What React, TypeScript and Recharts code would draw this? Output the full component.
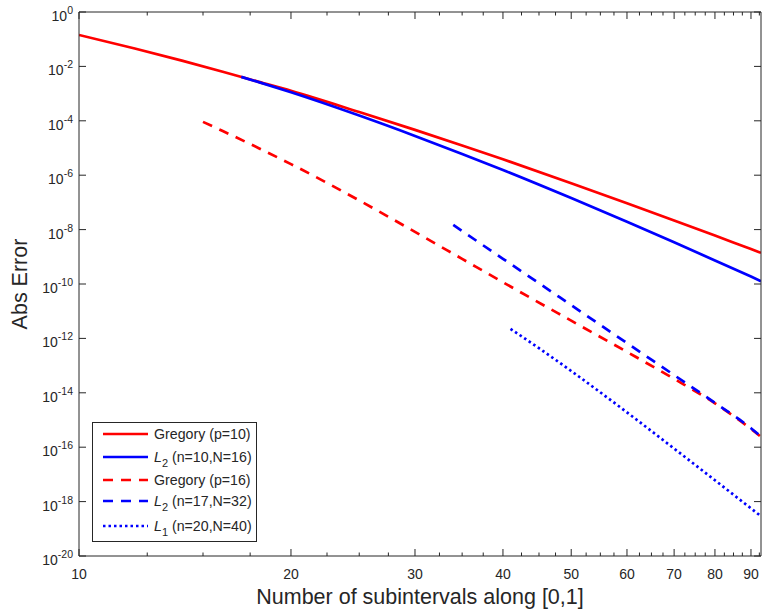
import { LineChart, Line, XAxis, YAxis, Legend } from 'recharts';

const AXIS = '#262626';
const RED = '#ff0000';
const BLUE = '#0000ff';
const FONT = '"Liberation Sans", Arial, Helvetica, sans-serif';

// axis ticks
const xMajorTicks = [10, 20, 30, 40, 50, 60, 70, 80, 90];
const xMinorTicks = [
  12.5, 15, 17.5, 22.5, 25, 27.5, 32.5, 35, 37.5, 42.5, 45, 47.5, 52.5, 55, 57.5,
  62.5, 65, 67.5, 72.5, 75, 77.5, 82.5, 85, 87.5, 92.5,
];
const yTicks = [1, 1e-2, 1e-4, 1e-6, 1e-8, 1e-10, 1e-12, 1e-14, 1e-16, 1e-18, 1e-20];

// Gregory (p=10)
const gregory10N = [10, 12, 14, 16, 18, 20, 25, 30, 35, 40, 50, 60, 70, 80, 90, 93];
const gregory10Err = [
  1.43e-1, 4.57e-2, 1.63e-2, 6.38e-3, 2.7e-3, 1.26e-3, 2.1e-4, 4.63e-5, 1.24e-5,
  3.85e-6, 5.09e-7, 9.35e-8, 2.17e-8, 6.03e-9, 1.92e-9, 1.4e-9,
];

// L2 (n=10,N=16)
const l2aN = [17, 18, 20, 25, 30, 35, 40, 50, 60, 70, 80, 90, 93];
const l2aErr = [
  4.12e-3, 2.64e-3, 1.12e-3, 1.56e-4, 2.78e-5, 6.03e-6, 1.55e-6, 1.44e-7, 1.94e-8,
  3.4e-9, 7.35e-10, 1.87e-10, 1.27e-10,
];

// Gregory (p=16)
const gregory16N = [15, 16, 18, 20, 25, 30, 35, 40, 50, 60, 70, 80, 90, 93];
const gregory16Err = [
  9.12e-5, 4.21e-5, 9.86e-6, 2.56e-6, 1.18e-7, 8.24e-9, 8.39e-10, 1.16e-10, 4.48e-12,
  3.18e-13, 3.26e-14, 4.11e-15, 4.68e-16, 2.4e-16,
];

// L2 (n=17,N=32)
const l2bN = [34, 35, 40, 45, 50, 60, 70, 80, 90, 93];
const l2bErr = [1.48e-8, 8.87e-9, 8.45e-10, 1.07e-10, 1.67e-11, 6.73e-13, 4.48e-14, 4.27e-15, 5.0e-16, 2.5e-16];

// L1 (n=20,N=40)
const l1N = [41, 45, 50, 60, 70, 80, 90, 93];
const l1Err = [2.24e-12, 4.36e-13, 6.32e-14, 1.91e-15, 8.89e-17, 6.07e-18, 5.64e-19, 2.9e-19];

const zip = (ns: number[], errs: number[]) => ns.map((n, i) => ({ n, err: errs[i] }));

const series = [
  { name: 'Gregory (p=10)', data: zip(gregory10N, gregory10Err), color: RED, dash: undefined, sym: '', sub: '', rest: 'Gregory (p=10)' },
  { name: 'L2 (n=10,N=16)', data: zip(l2aN, l2aErr), color: BLUE, dash: undefined, sym: 'L', sub: '2', rest: ' (n=10,N=16)' },
  { name: 'Gregory (p=16)', data: zip(gregory16N, gregory16Err), color: RED, dash: '10 8', sym: '', sub: '', rest: 'Gregory (p=16)' },
  { name: 'L2 (n=17,N=32)', data: zip(l2bN, l2bErr), color: BLUE, dash: '10 8', sym: 'L', sub: '2', rest: ' (n=17,N=32)' },
  { name: 'L1 (n=20,N=40)', data: zip(l1N, l1Err), color: BLUE, dash: '2.5 3', sym: 'L', sub: '1', rest: ' (n=20,N=40)' },
];

const legendRowY = [12, 35, 58, 79, 104];

const XTickBottom = ({ x, y, payload }: any) => {
  const major = xMajorTicks.includes(payload.value);
  return (
    <g>
      <line x1={x} x2={x} y1={y} y2={y - (major ? 7 : 3.5)} stroke={AXIS} strokeWidth={1} />
      {major && (
        <text x={x} y={y + 23} textAnchor="middle" fill={AXIS} fontSize={14} fontFamily={FONT}>
          {payload.value}
        </text>
      )}
    </g>
  );
};

const XTickTop = ({ x, y, payload }: any) => {
  const major = xMajorTicks.includes(payload.value);
  return <line x1={x} x2={x} y1={y} y2={y + (major ? 7 : 3.5)} stroke={AXIS} strokeWidth={1} />;
};

const YTickLeft = ({ x, y, payload }: any) => {
  const e = Math.round(Math.log10(payload.value));
  return (
    <g>
      <line x1={x} x2={x + 7} y1={y} y2={y} stroke={AXIS} strokeWidth={1} />
      <text x={x - 6} y={y + 9} textAnchor="end" fill={AXIS} fontSize={14} fontFamily={FONT}>
        10
        <tspan dy={-7} fontSize={10.5}>
          {e}
        </tspan>
      </text>
    </g>
  );
};

const YTickRight = ({ x, y }: any) => (
  <line x1={x} x2={x - 7} y1={y} y2={y} stroke={AXIS} strokeWidth={1} />
);

const XTitle = ({ viewBox }: any) => (
  <text
    x={viewBox.x + viewBox.width / 2}
    y={viewBox.y + 48}
    textAnchor="middle"
    fill={AXIS}
    fontSize={21.5}
    fontFamily={FONT}
  >
    Number of subintervals along [0,1]
  </text>
);

const YTitle = ({ viewBox }: any) => {
  const cx = 27;
  const cy = viewBox.y + viewBox.height / 2;
  return (
    <text
      x={cx}
      y={cy}
      transform={`rotate(-90 ${cx} ${cy})`}
      textAnchor="middle"
      fill={AXIS}
      fontSize={21.5}
      fontFamily={FONT}
    >
      Abs Error
    </text>
  );
};

const renderLegend = () => (
  <svg width={166} height={121} style={{ display: 'block' }}>
    <rect x={0.5} y={0.5} width={164} height={119} fill="#fff" stroke={AXIS} strokeWidth={1} />
    {series.map((s, i) => (
      <g key={s.name}>
        <line
          x1={11}
          x2={56}
          y1={legendRowY[i]}
          y2={legendRowY[i]}
          stroke={s.color}
          strokeWidth={2.7}
          strokeDasharray={s.dash}
        />
        <text x={62} y={legendRowY[i] + 5} fill={AXIS} fontSize={14.2} fontFamily={FONT}>
          {s.sym ? (
            <>
              <tspan fontStyle="italic">{s.sym}</tspan>
              <tspan dy={5} fontSize={11}>
                {s.sub}
              </tspan>
              <tspan dy={-5}>{s.rest}</tspan>
            </>
          ) : (
            s.rest
          )}
        </text>
      </g>
    ))}
  </svg>
);

export default function App() {
  const xTicks = [...xMajorTicks, ...xMinorTicks].sort((a, b) => a - b);
  return (
    <div style={{ position: 'absolute', left: 0, top: 0, background: '#fff' }}>
      <LineChart width={762} height={613} margin={{ top: 11, right: 0, bottom: 0, left: 0 }}>
        <XAxis
          xAxisId="b"
          type="number"
          dataKey="n"
          scale="log"
          domain={[10, 93]}
          allowDataOverflow
          ticks={xTicks}
          interval={0}
          height={57}
          tickSize={0}
          tickMargin={0}
          tickLine={false}
          tick={<XTickBottom />}
          axisLine={{ stroke: AXIS }}
          label={<XTitle />}
        />
        <XAxis
          xAxisId="t"
          orientation="top"
          type="number"
          dataKey="n"
          scale="log"
          domain={[10, 93]}
          allowDataOverflow
          ticks={xTicks}
          interval={0}
          height={1}
          tickSize={0}
          tickMargin={0}
          tickLine={false}
          tick={<XTickTop />}
          axisLine={{ stroke: AXIS }}
        />
        <YAxis
          yAxisId="l"
          type="number"
          dataKey="err"
          scale="log"
          domain={[1e-20, 1]}
          allowDataOverflow
          ticks={yTicks}
          interval={0}
          width={79}
          tickSize={0}
          tickMargin={0}
          tickLine={false}
          tick={<YTickLeft />}
          axisLine={{ stroke: AXIS }}
          label={<YTitle />}
        />
        <YAxis
          yAxisId="r"
          orientation="right"
          type="number"
          dataKey="err"
          scale="log"
          domain={[1e-20, 1]}
          allowDataOverflow
          ticks={yTicks}
          interval={0}
          width={1}
          tickSize={0}
          tickMargin={0}
          tickLine={false}
          tick={<YTickRight />}
          axisLine={{ stroke: AXIS }}
        />
        {series.map((s) => (
          <Line
            key={s.name}
            xAxisId="b"
            yAxisId="l"
            data={s.data}
            dataKey="err"
            name={s.name}
            type="monotone"
            stroke={s.color}
            strokeWidth={2.7}
            strokeDasharray={s.dash}
            dot={false}
            activeDot={false}
            isAnimationActive={false}
          />
        ))}
        <Legend
          layout="vertical"
          align="center"
          verticalAlign="middle"
          wrapperStyle={{ left: 92, top: 422, width: 166, height: 121 }}
          content={renderLegend}
        />
      </LineChart>
    </div>
  );
}
